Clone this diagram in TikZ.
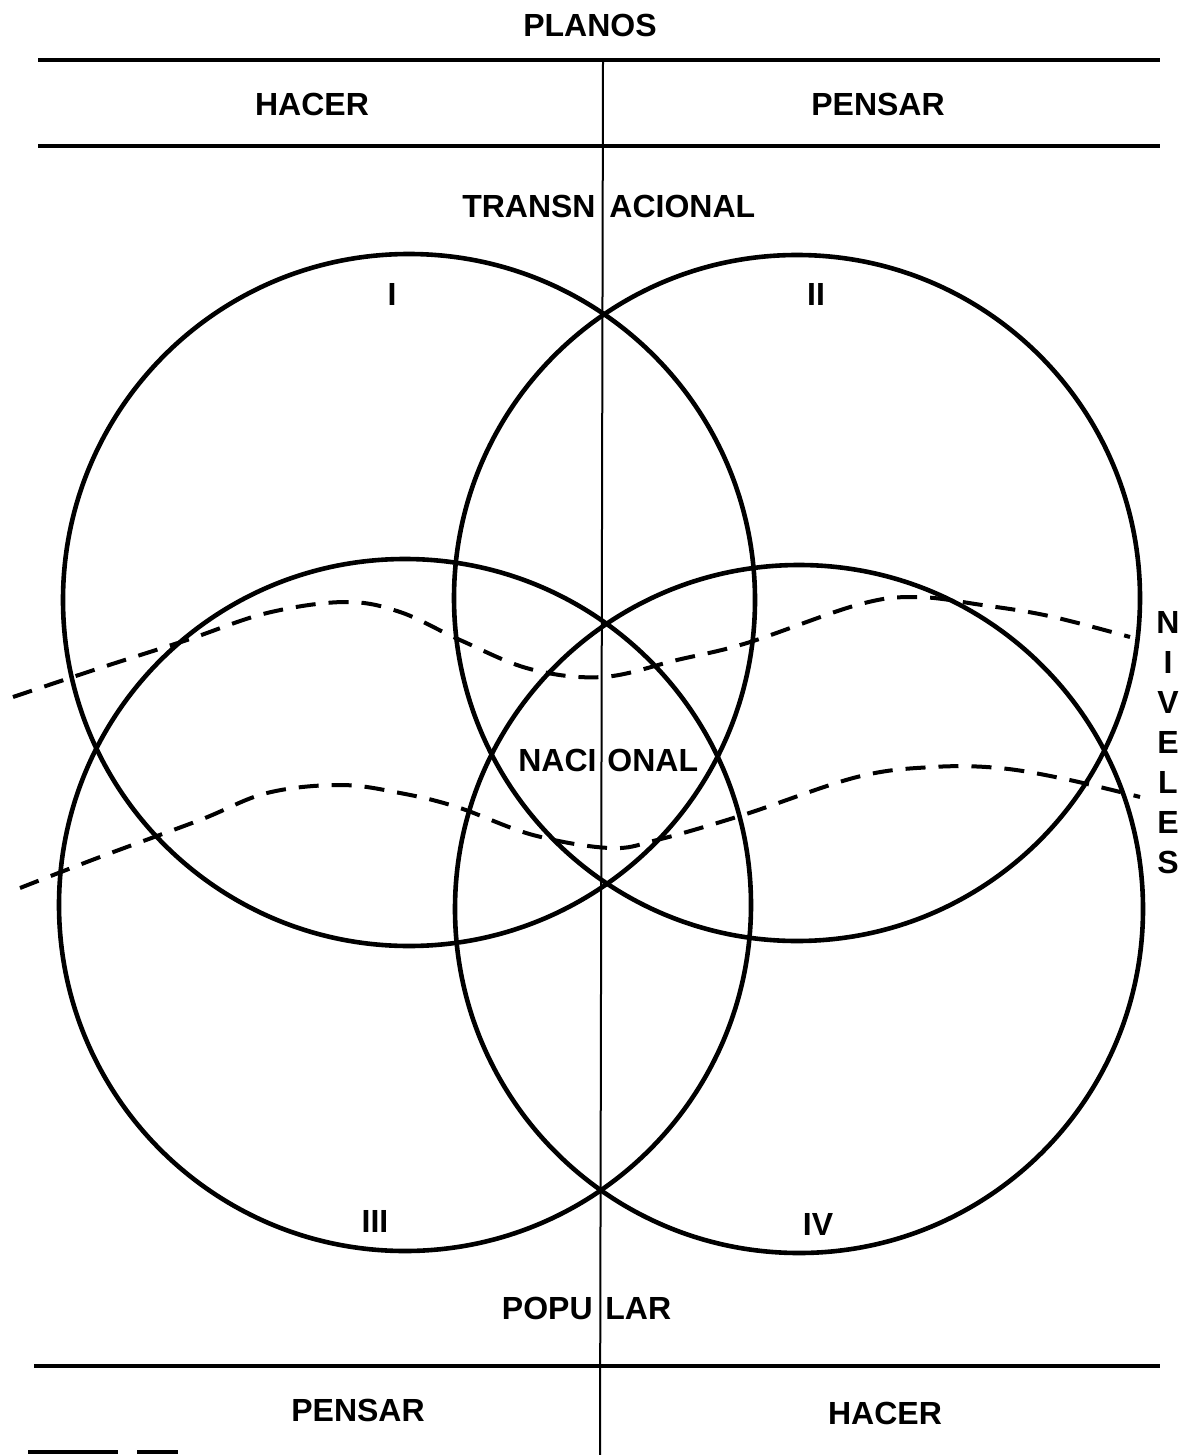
\documentclass[tikz,border=0pt]{standalone}
\usepackage{fontspec}
\setmainfont{Liberation Sans}
\usepackage{tikz}

\begin{document}
\begin{tikzpicture}[x=0.5pt,y=-0.5pt,
  ring/.style={line width=2.3pt},
  rule/.style={line width=2pt},
  wave/.style={line width=2pt,dash pattern=on 10pt off 6.5pt},
  lab/.style={inner sep=0pt,font=\fontsize{16}{19}\selectfont\bfseries}]
\useasboundingbox (0,0) rectangle (1188,1455);
% the two bands
\coordinate (vtop) at (603,60);
\coordinate (vbot) at (600,1455);
\draw[rule] (38,60) -- (1160,60);
\draw[rule] (38,146) -- (1160,146);
\draw[rule] (34,1366) -- (1160,1366);
\draw[rule] (28,1452) -- (118,1452) (137,1452) -- (178,1452);
\draw[line width=1pt] (vtop) -- (vbot);
\node[lab] (planos) at (590,25) {PLANOS};
\node[lab] (hacer1) at (312,104) {HACER};
\node[lab] (pensar1) at (878,104) {PENSAR};
\node[lab] (pensar2) at (358,1410) {PENSAR};
\node[lab] (hacer2) at (885,1413) {HACER};
% the four circles
\draw[ring] (409,600) circle[radius=346];
\draw[ring] (797,598) circle[radius=343];
\draw[ring] (405,905) circle[radius=346];
\draw[ring] (799,909) circle[radius=344];
\node[lab] (c1) at (392,294) {I};
\node[lab] (c2) at (816,294) {II};
\node[lab] (c3) at (375,1221) {III};
\node[lab] (c4) at (818,1224) {IV};
% levels, split by the line
\node[lab,anchor=east] (trl) at (596,206) {TRANSN};
\node[lab,anchor=west] (trr) at (609,206) {ACIONAL};
\node[lab,anchor=east] (nal) at (597,760) {NACI};
\node[lab,anchor=west] (nar) at (607,760) {ONAL};
\node[lab,anchor=east] (pol) at (593,1308) {POPU};
\node[lab,anchor=west] (por) at (605,1308) {LAR};
\foreach \l [count=\i] in {N,I,V,E,L,E,S}
  \node[lab] (niv\i) at (1168,582+40*\i) {\l};
% borders between levels
\draw[wave] plot[smooth,tension=0.6] coordinates {(13,697) (100,668) (187,640) (267,613)
  (345,602) (400,612) (460,640) (530,669) (603,677) (677,660) (747,643) (857,605)
  (916,597) (982,605) (1049,616) (1130,637)};
\draw[wave] plot[smooth,tension=0.6] coordinates {(20,888) (100,857) (200,820) (267,793)
  (340,785) (400,793) (457,807) (533,835) (610,848) (657,840) (743,815) (857,777)
  (933,767) (999,768) (1065,779) (1140,797)};
\end{tikzpicture}
\end{document}
